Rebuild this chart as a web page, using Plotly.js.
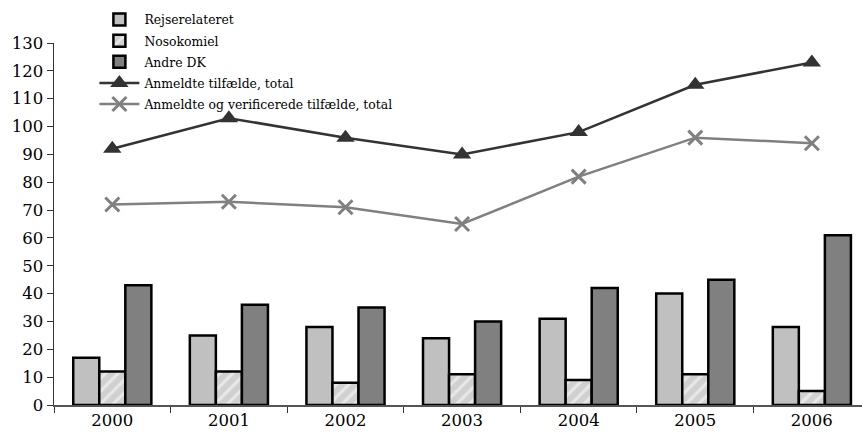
<!DOCTYPE html>
<html>
<head>
<meta charset="utf-8">
<script src="https://cdn.plot.ly/plotly-3.0.1.min.js"></script>
<style>html,body{margin:0;padding:0;background:#fff;}#chart{width:862px;height:437px;}</style>
</head>
<body>
<div id="chart"></div>
<script>
const years = ["2000","2001","2002","2003","2004","2005","2006"];
const rejserelateret = [17, 25, 28, 24, 31, 40, 28];
const nosokomiel = [12, 12, 8, 11, 9, 11, 5];
const andreDK = [43, 36, 35, 30, 42, 45, 61];
const anmeldteTotal = [92, 103, 96, 90, 98, 115, 123];
const verificeredeTotal = [72, 73, 71, 65, 82, 96, 94];

const FONT = "DejaVu Serif, Liberation Serif, serif";
const outline = {color: "#000", width: 2.5};

const traces = [
  {type: "bar", name: "Rejserelateret", x: years, y: rejserelateret, legendgroup: "g1",
   marker: {color: "#c0c0c0", line: outline}},
  {type: "bar", name: "Nosokomiel", x: years, y: nosokomiel, legendgroup: "g2",
   marker: {color: "#d6d6d6", line: outline,
            pattern: {shape: "/", fillmode: "overlay", fgcolor: "#ffffff", bgcolor: "#d0d0d0", size: 9, solidity: 0.35}}},
  {type: "bar", name: "Andre DK", x: years, y: andreDK, legendgroup: "g3",
   marker: {color: "#808080", line: outline}},
  {type: "scatter", mode: "lines+markers", name: "Anmeldte tilfælde, total", x: years, y: anmeldteTotal, legendgroup: "g4",
   line: {color: "#333333", width: 2.5},
   marker: {symbol: "triangle-up", size: 16, color: "#333333"}},
  {type: "scatter", mode: "lines+markers", name: "Anmeldte og verificerede tilfælde, total", x: years, y: verificeredeTotal, legendgroup: "g5",
   line: {color: "#808080", width: 2.5},
   marker: {symbol: "x-thin", size: 14, color: "#808080", line: {color: "#808080", width: 3}}}
];

const layout = {
  width: 862, height: 437,
  margin: {l: 54, r: 0, t: 43, b: 32},
  paper_bgcolor: "#fff", plot_bgcolor: "#fff",
  font: {family: FONT, color: "#000", size: 16},
  barmode: "group",
  bargap: 0.33,
  bargroupgap: 0,
  showlegend: true,
  legend: {x: 0.05, y: 1.105, xanchor: "left", yanchor: "top",
           bgcolor: "rgba(0,0,0,0)", font: {family: FONT, size: 12.4, color: "#000"},
           tracegroupgap: 2, itemwidth: 40, traceorder: "grouped"},
  xaxis: {type: "category", range: [-0.5, 6.43], showline: true, linecolor: "#555", linewidth: 1.5,
          ticks: "outside", tickson: "boundaries", ticklen: 6, tickcolor: "#333",
          showgrid: false, zeroline: false, tickfont: {family: FONT, size: 16.5}},
  yaxis: {range: [0, 130], dtick: 10, showline: true, linecolor: "#333", linewidth: 1.5,
          ticks: "outside", ticklen: 6, tickcolor: "#333", showgrid: false, zeroline: false,
          tickfont: {family: FONT, size: 16.5}}
};

Plotly.newPlot("chart", traces, layout, {displayModeBar: false, staticPlot: true});
</script>
</body>
</html>
